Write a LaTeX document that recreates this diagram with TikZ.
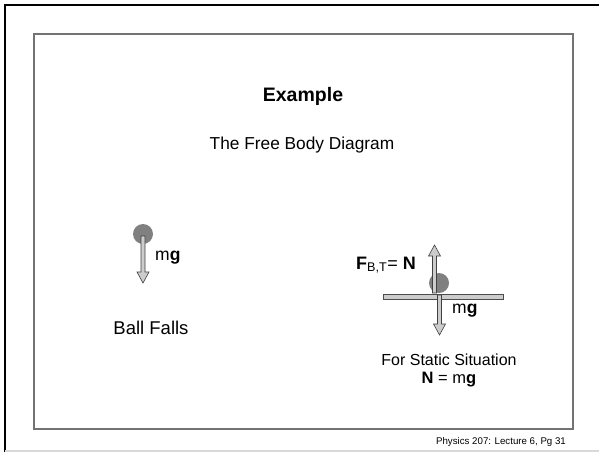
\documentclass[tikz,border=0pt]{standalone}
\usepackage{fontspec}
\setmainfont{Liberation Sans}
\tikzset{
	forceline/.style={draw=black!75, fill=black!20, line width=0.6pt, line join=miter},
	pics/force/.style={code={\draw[forceline] (-2,0) -- (2,0) -- (2,#1-11) -- (6,#1-11) -- (0,#1) -- (-6,#1-11) -- (-2,#1-11) -- cycle;}},
	ball/.style={circle, fill=black!50, inner sep=0pt, minimum size=20pt},
	txt/.style={font=\fontsize{16.5}{19}\selectfont, inner sep=0pt}
}
\begin{document}
\begin{tikzpicture}[x=1pt, y=-1pt]
	\useasboundingbox (0,0) rectangle (599,452);
	\draw[line width=2.5pt] (5,452) -- (5,5) -- (599,5);
	\draw[line width=1.5pt, color=black!15] (5,451) -- (599,451);
	\draw[line width=1.2pt, color=black!55] (34,34) rectangle (573,429);
	\node[txt, font=\fontsize{19.5}{22}\selectfont\bfseries] (head) at (303,96) {Example};
	\node[txt, font=\fontsize{17.3}{20}\selectfont] (title) at (302,145) {The Free Body Diagram};
	\node[ball] (ballA) at (143,234) {};
	\pic (wA) at (143,236) {force=47};
	\node[txt, anchor=west, font=\fontsize{17.5}{20}\selectfont] (mgA) at (155,258) {m\textbf{g}};
	\node[txt, font=\fontsize{18.5}{21}\selectfont] (fall) at (151,328) {Ball Falls};
	\node[ball] (ballB) at (439,283) {};
	\draw[line width=0.8pt, draw=black!70, fill=black!20] (383,294) rectangle (503,299);
	\pic[rotate=180] (nB) at (434.5,293) {force=48};
	\pic (wB) at (439.5,295) {force=40};
	\node[txt, anchor=east, font=\fontsize{18}{20}\selectfont] (nlab) at (416,265) {\textbf{F}\textsubscript{B,T}= \textbf{N}};
	\node[txt, anchor=west, font=\fontsize{17.5}{20}\selectfont] (mgB) at (452,311) {m\textbf{g}};
	\node[txt, font=\fontsize{16}{19}\selectfont] (stat) at (449,360) {For Static Situation};
	\node[txt] (eq) at (449,380) {\textbf{N} = m\textbf{g}};
	\node[txt, font=\fontsize{9.7}{11}\selectfont] (foot) at (501,442) {Physics 207: Lecture 6, Pg 31};
\end{tikzpicture}
\end{document}
